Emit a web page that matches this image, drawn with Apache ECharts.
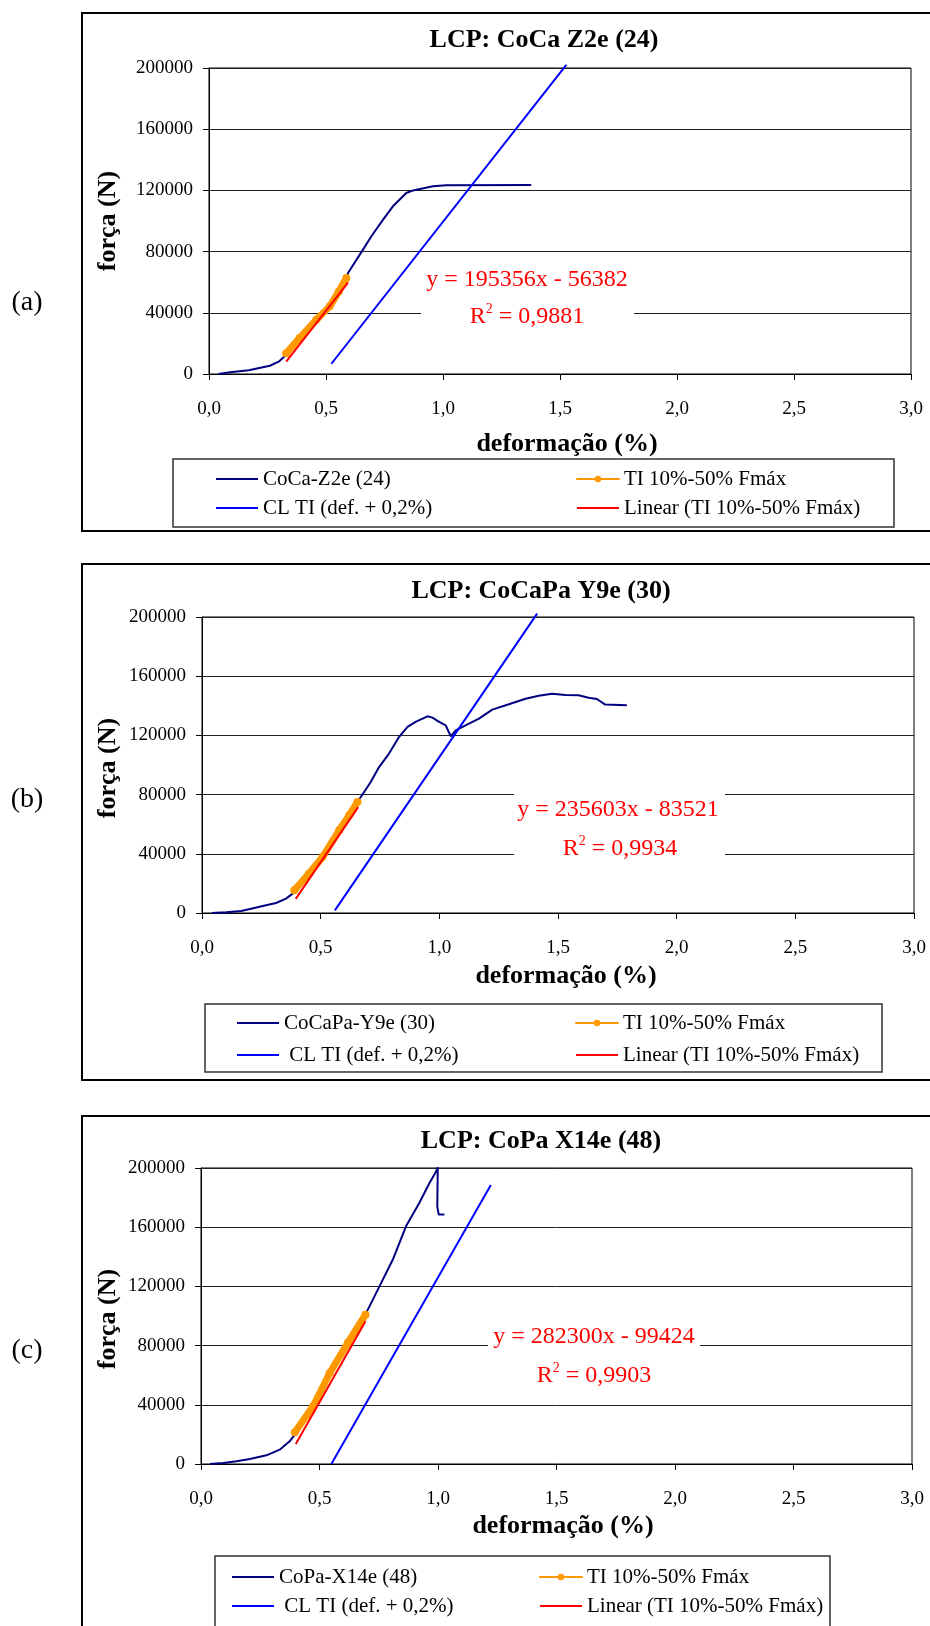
<!DOCTYPE html>
<html><head><meta charset="utf-8">
<script src="https://cdn.jsdelivr.net/npm/echarts@6/dist/echarts.min.js"></script>
<style>html,body{margin:0;padding:0;background:#fff}#c{width:930px;height:1626px}</style>
</head><body><div id="c"></div>
<script>
// ---------- DATA ----------
const xTickLabels = ['0,0','0,5','1,0','1,5','2,0','2,5','3,0'];
const yTickLabels = ['0','40000','80000','120000','160000','200000'];
const chartTitles = ['LCP: CoCa Z2e (24)', 'LCP: CoCaPa Y9e (30)', 'LCP: CoPa X14e (48)'];
const panelLabels = ['(a)', '(b)', '(c)'];
const specimenNames = ['CoCa-Z2e (24)', 'CoCaPa-Y9e (30)', 'CoPa-X14e (48)'];
const tiName = 'TI 10%-50% Fmáx';
const clNames = ['CL TI (def. + 0,2%)', ' CL TI (def. + 0,2%)', ' CL TI (def. + 0,2%) '];
const linName = 'Linear (TI 10%-50% Fmáx)';
const equations = ['y = 195356x - 56382', 'y = 235603x - 83521', 'y = 282300x - 99424'];
const r2Values = ['0,9881', '0,9934', '0,9903'];

// (a) CoCa Z2e (24)
const specimenA = [[0.04,0],[0.09,1100],[0.17,2400],[0.26,5400],[0.30,8300],[0.33,12500],[0.40,25000],[0.46,36000],[0.52,46500],[0.59,62700],[0.594,66000],[0.658,81300],[0.694,90000],[0.744,100900],[0.786,109600],[0.843,118300],[0.872,120000],[0.957,122700],[1.014,123300],[1.377,123500]];
const tiA = [[0.33,13500],[0.387,23500],[0.459,35500],[0.516,44200],[0.555,54000],[0.587,62700]];
const clA = [[0.523,6700],[1.527,202000]];
const linA = [[0.33,8100],[0.594,59700]];

// (b) CoCaPa Y9e (30)
const specimenB = [[0.042,0],[0.102,450],[0.165,1350],[0.207,2900],[0.256,4700],[0.312,6750],[0.354,9700],[0.382,13100],[0.389,15300],[0.45,26500],[0.508,37800],[0.578,55900],[0.655,75000],[0.662,76100],[0.711,88500],[0.746,98600],[0.788,107700],[0.830,118900],[0.866,125700],[0.900,129100],[0.950,132900],[0.971,132000],[0.999,129100],[1.027,126800],[1.048,119400],[1.069,123400],[1.125,127900],[1.167,131300],[1.223,137400],[1.293,141000],[1.363,144800],[1.419,146800],[1.475,148200],[1.531,147300],[1.587,147100],[1.629,145500],[1.664,144600],[1.699,140800],[1.790,140300]];
const tiB = [[0.389,15300],[0.45,26500],[0.508,37800],[0.578,55900],[0.62,66000],[0.655,75000]];
const clB = [[0.560,1800],[1.412,202300]];
const linB = [[0.395,9550],[0.658,71500]];

// (c) CoPa X14e (48)
const specimenC = [[0.038,0],[0.094,680],[0.150,1800],[0.206,3400],[0.276,5860],[0.332,9700],[0.374,15300],[0.396,19800],[0.473,39000],[0.543,61500],[0.62,82000],[0.694,100900],[0.704,104300],[0.753,120000],[0.809,138000],[0.865,160600],[0.921,176400],[0.964,189900],[0.992,197700],[0.999,200500],[0.997,174000],[1.003,168500],[1.027,168500]];
const tiC = [[0.396,21400],[0.473,39000],[0.543,61500],[0.62,82000],[0.694,100900]];
const clC = [[0.550,0],[1.223,188500]];
const linC = [[0.40,13500],[0.694,96500]];

const specimenData = [specimenA, specimenB, specimenC];
const tiData = [tiA, tiB, tiC];
const clData = [clA, clB, clC];
const linData = [linA, linB, linC];

// ---------- LAYOUT / STYLE ----------
const FONT = '"Liberation Serif", "Times New Roman", serif';
const COL_SPEC = '#000080', COL_TI = '#FF9900', COL_CL = '#0000FF', COL_LIN = '#FF0000';
const grids = [
  {left:209, top:68, width:702, height:306},
  {left:202, top:617, width:712, height:296},
  {left:201, top:1168, width:711, height:296}
];
const frames = [[82,13,860,518],[82,564,860,516],[82,1116,860,540]];
const legendBoxes = [[173,459,721,68],[205,1004,677,68],[215,1556,615,90]];
const legendPos = [
  {top:468, gap:7, l1:215, l2:576},
  {top:1012, gap:10, l1:236, l2:575},
  {top:1566, gap:7, l1:231, l2:539}
];
const eqBoxes = [[421,262,213,72],[514,786,211,80],[488,1320,212,76]];
const eqPos = [[527,280,527,317],[618,810,620,849],[594,1337,594,1376]];
const titlePos = [[544,40],[541,591],[541,1141]];
const xNamePos = [[567,444],[566,976],[563,1526]];
const yNamePos = [[108,221],[108,768],[108,1319]];
const panelPos = [[27,303],[27,800],[27,1351]];

const option = {
  animation: false,
  backgroundColor: '#fff',
  grid: grids.map(g => Object.assign({show:true, borderColor:'#000', borderWidth:1, outerBoundsMode:'none', containLabel:false}, g)),
  xAxis: grids.map((g,i) => ({
    type:'value', gridIndex:i, min:0, max:3, interval:0.5,
    axisLine:{show:true, onZero:false, lineStyle:{color:'#000', width:1}},
    axisTick:{show:true, inside:false, length:6, lineStyle:{color:'#000'}},
    axisLabel:{show:true, margin:26, fontFamily:FONT, fontSize:19, color:'#000',
      formatter:(v)=> xTickLabels[Math.round(v/0.5)]},
    splitLine:{show:false}
  })),
  yAxis: grids.map((g,i) => ({
    type:'value', gridIndex:i, min:0, max:200000, interval:40000,
    axisLine:{show:true, onZero:false, lineStyle:{color:'#000', width:1}},
    axisTick:{show:true, inside:false, length:6, lineStyle:{color:'#000'}},
    axisLabel:{show:true, margin:16, fontFamily:FONT, fontSize:19, color:'#000',
      formatter:(v)=> yTickLabels[Math.round(v/40000)]},
    splitLine:{show:true, lineStyle:{color:'#222', width:1}}
  })),
  legend: [],
  series: [],
  graphic: []
};

const noDot = {opacity:0, color:'transparent', borderWidth:0};

for (let i = 0; i < 3; i++) {
  const base = {type:'line', xAxisIndex:i, yAxisIndex:i, clip:false, silent:true, animation:false};
  option.series.push(Object.assign({}, base, {name:specimenNames[i], data:specimenData[i], symbol:'none', showSymbol:false,
    lineStyle:{color:COL_SPEC, width:2}, itemStyle:{color:COL_SPEC}, z:2}));
  option.series.push(Object.assign({}, base, {name:tiName, data:tiData[i], symbol:'circle', symbolSize:8, showSymbol:true,
    lineStyle:{color:COL_TI, width:7, cap:'round', join:'round'}, itemStyle:{color:COL_TI}, z:3}));
  option.series.push(Object.assign({}, base, {name:clNames[i], data:clData[i], symbol:'none', showSymbol:false,
    lineStyle:{color:COL_CL, width:2}, itemStyle:{color:COL_CL}, z:4}));
  option.series.push(Object.assign({}, base, {name:linName, data:linData[i], symbol:'none', showSymbol:false,
    lineStyle:{color:COL_LIN, width:2}, itemStyle:{color:COL_LIN}, z:5}));

  const lp = legendPos[i];
  const legBase = {orient:'vertical', top:lp.top, itemGap:lp.gap, itemWidth:42, itemHeight:8, padding:0,
    selectedMode:false, textStyle:{fontFamily:FONT, fontSize:21, color:'#000', lineHeight:22},
    lineStyle:{width:2}};
  option.legend.push(Object.assign({}, legBase, {left:lp.l1, data:[
    {name:specimenNames[i], itemStyle:noDot}, {name:clNames[i], itemStyle:noDot}]}));
  option.legend.push(Object.assign({}, legBase, {left:lp.l2, data:[
    {name:tiName, itemStyle:{color:COL_TI}}, {name:linName, itemStyle:noDot}]}));

  const f = frames[i];
  option.graphic.push({type:'rect', shape:{x:f[0], y:f[1], width:f[2], height:f[3]}, style:{fill:'none', stroke:'#000', lineWidth:2}, z:50, silent:true});
  const lb = legendBoxes[i];
  option.graphic.push({type:'rect', shape:{x:lb[0], y:lb[1], width:lb[2], height:lb[3]}, style:{fill:'none', stroke:'#333', lineWidth:1.5}, z:50, silent:true});
  const eb = eqBoxes[i];
  option.graphic.push({type:'rect', shape:{x:eb[0], y:eb[1], width:eb[2], height:eb[3]}, style:{fill:'#fff'}, z:50, silent:true});
  const ep = eqPos[i];
  option.graphic.push({type:'text', x:ep[0], y:ep[1], z:60, silent:true,
    style:{text:equations[i], fontFamily:FONT, fontSize:24, fill:COL_LIN, textAlign:'center', textVerticalAlign:'middle'}});
  option.graphic.push({type:'text', x:ep[2], y:ep[3], z:60, silent:true,
    style:{text:'R{s|2} = ' + r2Values[i], fontFamily:FONT, fontSize:24, fill:COL_LIN, lineHeight:30,
      textAlign:'center', textVerticalAlign:'middle',
      rich:{s:{fontFamily:FONT, fontSize:14, fill:COL_LIN, lineHeight:14, verticalAlign:'top'}}}});
  const tp = titlePos[i];
  option.graphic.push({type:'text', x:tp[0], y:tp[1], z:60, silent:true,
    style:{text:chartTitles[i], fontFamily:FONT, fontWeight:'bold', fontSize:26, fill:'#000', textAlign:'center', textVerticalAlign:'middle'}});
  const xp = xNamePos[i];
  option.graphic.push({type:'text', x:xp[0], y:xp[1], z:60, silent:true,
    style:{text:'deformação (%)', fontFamily:FONT, fontWeight:'bold', fontSize:26, fill:'#000', textAlign:'center', textVerticalAlign:'middle'}});
  const yp = yNamePos[i];
  option.graphic.push({type:'text', x:yp[0], y:yp[1], rotation:Math.PI/2, z:60, silent:true,
    style:{text:'força (N)', fontFamily:FONT, fontWeight:'bold', fontSize:26, fill:'#000', textAlign:'center', textVerticalAlign:'middle'}});
  const pp = panelPos[i];
  option.graphic.push({type:'text', x:pp[0], y:pp[1], z:60, silent:true,
    style:{text:panelLabels[i], fontFamily:FONT, fontSize:28, fill:'#000', textAlign:'center', textVerticalAlign:'middle'}});
}

const chart = echarts.init(document.getElementById('c'), null, {renderer:'canvas'});
chart.setOption(option);
</script>
</body></html>
